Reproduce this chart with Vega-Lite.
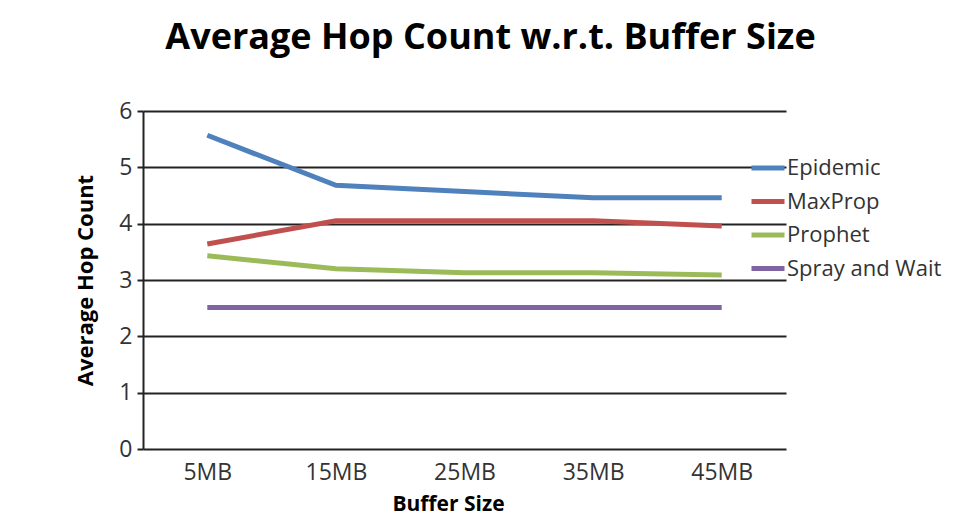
{
  "$schema": "https://vega.github.io/schema/vega-lite/v6.json",
  "width": 643,
  "height": 338,
  "autosize": {"type": "none"},
  "padding": {"left": 143, "top": 111, "right": 174, "bottom": 73},
  "background": "white",
  "title": {
    "text": "Average Hop Count w.r.t. Buffer Size",
    "font": "Open Sans",
    "fontSize": 36,
    "fontWeight": "bold",
    "color": "#000000",
    "anchor": "middle",
    "dx": 26,
    "offset": 43
  },
  "config": {
    "view": {"stroke": null},
    "font": "Open Sans"
  },
  "data": {
    "values": [
      {"buffer": "5MB", "protocol": "Epidemic", "hops": 5.57},
      {"buffer": "15MB", "protocol": "Epidemic", "hops": 4.68},
      {"buffer": "25MB", "protocol": "Epidemic", "hops": 4.57},
      {"buffer": "35MB", "protocol": "Epidemic", "hops": 4.46},
      {"buffer": "45MB", "protocol": "Epidemic", "hops": 4.46},
      {"buffer": "5MB", "protocol": "MaxProp", "hops": 3.64},
      {"buffer": "15MB", "protocol": "MaxProp", "hops": 4.05},
      {"buffer": "25MB", "protocol": "MaxProp", "hops": 4.05},
      {"buffer": "35MB", "protocol": "MaxProp", "hops": 4.05},
      {"buffer": "45MB", "protocol": "MaxProp", "hops": 3.96},
      {"buffer": "5MB", "protocol": "Prophet", "hops": 3.43},
      {"buffer": "15MB", "protocol": "Prophet", "hops": 3.2},
      {"buffer": "25MB", "protocol": "Prophet", "hops": 3.13},
      {"buffer": "35MB", "protocol": "Prophet", "hops": 3.13},
      {"buffer": "45MB", "protocol": "Prophet", "hops": 3.09},
      {"buffer": "5MB", "protocol": "Spray and Wait", "hops": 2.51},
      {"buffer": "15MB", "protocol": "Spray and Wait", "hops": 2.51},
      {"buffer": "25MB", "protocol": "Spray and Wait", "hops": 2.51},
      {"buffer": "35MB", "protocol": "Spray and Wait", "hops": 2.51},
      {"buffer": "45MB", "protocol": "Spray and Wait", "hops": 2.51}
    ]
  },
  "mark": {"type": "line", "strokeWidth": 5},
  "encoding": {
    "x": {
      "field": "buffer",
      "type": "ordinal",
      "sort": ["5MB", "15MB", "25MB", "35MB", "45MB"],
      "scale": {"type": "point", "padding": 0.5},
      "axis": {
        "title": "Buffer Size",
        "titleFont": "Open Sans",
        "titleFontSize": 21,
        "titleFontWeight": "bold",
        "titleColor": "#000000",
        "titleX": 305,
        "titleY": 55,
        "titleBaseline": "middle",
        "labelAngle": 0,
        "labelFont": "Open Sans",
        "labelFontSize": 23,
        "labelColor": "#333333",
        "labelPadding": 12,
        "ticks": false,
        "domain": false,
        "grid": false
      }
    },
    "y": {
      "field": "hops",
      "type": "quantitative",
      "scale": {"domain": [0, 6]},
      "axis": {
        "title": "Average Hop Count",
        "titleFont": "Open Sans",
        "titleFontSize": 22,
        "titleFontWeight": "bold",
        "titleColor": "#000000",
        "titlePadding": 21,
        "values": [0, 1, 2, 3, 4, 5, 6],
        "labelFont": "Open Sans",
        "labelFontSize": 23,
        "labelColor": "#333333",
        "labelPadding": 5,
        "tickSize": 6,
        "tickColor": "#222222",
        "tickWidth": 2,
        "domainColor": "#222222",
        "domainWidth": 2,
        "grid": true,
        "gridColor": "#222222",
        "gridWidth": 2
      }
    },
    "color": {
      "field": "protocol",
      "type": "nominal",
      "scale": {
        "domain": ["Epidemic", "MaxProp", "Prophet", "Spray and Wait"],
        "range": ["#4F81BD", "#C0504D", "#9BBB59", "#8064A2"]
      },
      "legend": {
        "title": null,
        "orient": "none",
        "legendX": 606,
        "legendY": 38,
        "symbolType": "stroke",
        "symbolSize": 1089,
        "symbolStrokeWidth": 5,
        "labelFont": "Open Sans",
        "labelFontSize": 22,
        "labelColor": "#333333",
        "labelOffset": 0,
        "rowPadding": 3.5
      }
    }
  }
}
